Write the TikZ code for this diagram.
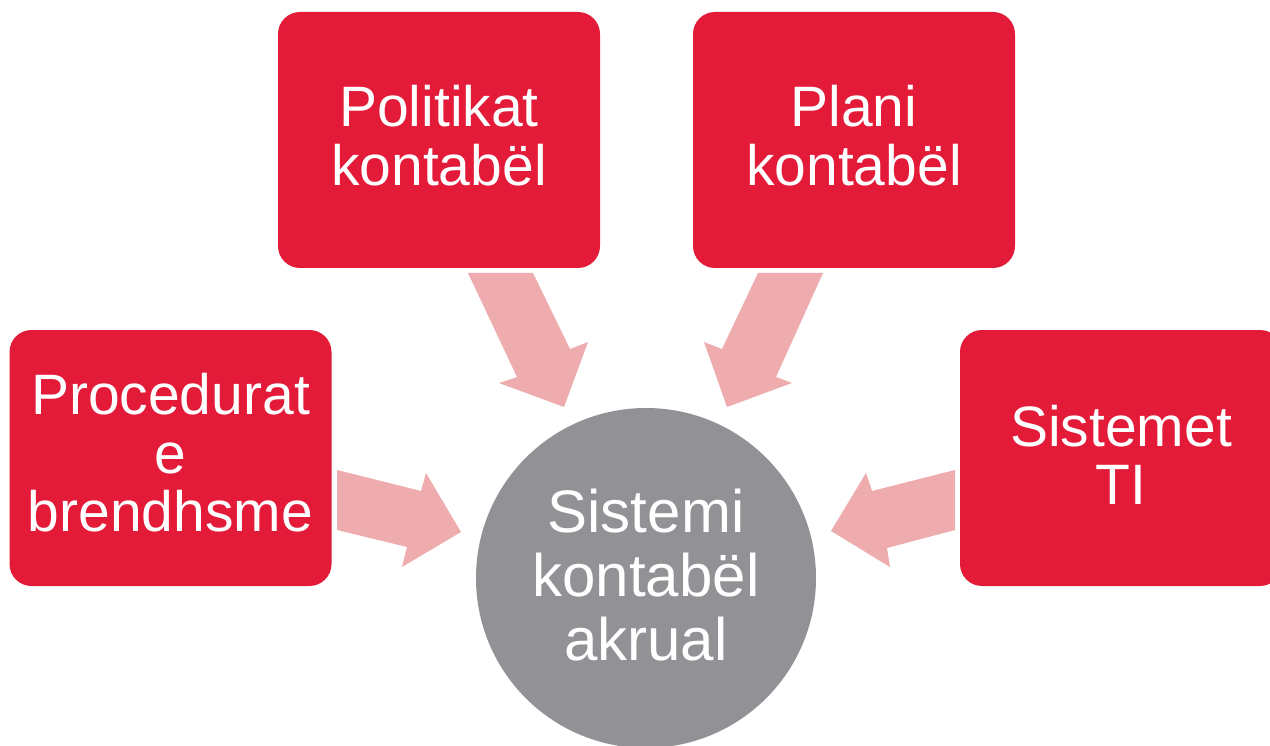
\documentclass[tikz,border=0pt]{standalone}
\usepackage{fontspec}
\setmainfont{Liberation Sans}
\definecolor{boxred}{HTML}{E31A38}
\definecolor{circgrey}{HTML}{929195}
\definecolor{arrowpink}{HTML}{EFACAF}
\begin{document}
\begin{tikzpicture}[x=1pt,y=-1pt,
  redbox/.style={fill=boxred, rounded corners=22pt, minimum width=322pt, minimum height=256pt,
     inner sep=0pt},
  boxtext/.style={inner sep=0pt, text=white, align=center, font=\fontsize{57}{58.5}\selectfont},
  hub/.style={circle, fill=circgrey, minimum size=340pt, inner sep=0pt},
  hubtext/.style={inner sep=0pt, text=white, align=center, font=\fontsize{60}{64}\selectfont},
  blockarrow/.style={fill=arrowpink}]
\clip (0,0) rectangle (1270,746);
\fill[white] (0,0) rectangle (1270,746);
% arrows
\fill[blockarrow] (337,470) -- (421,491) -- (426,473) -- (461,532) -- (402,567) -- (407,547) -- (337,530) -- cycle;
\fill[blockarrow] (955,470) -- (872,491) -- (866,473) -- (831,531) -- (890,567) -- (887,548) -- (955,530) -- cycle;
\fill[blockarrow] (468,273) -- (533,273) -- (570,349) -- (588,342) -- (564,407) -- (499,383) -- (517,377) -- cycle;
\fill[blockarrow] (823,273) -- (758,273) -- (722,349) -- (704,342) -- (727,407) -- (792,383) -- (776,377) -- cycle;
% nodes
\node[redbox] (pol) at (439,140) {};
\node[boxtext] (poltxt) at ([yshift=4.5pt]pol.center) {Politikat\\kontabël};
\node[redbox] (plan) at (854,140) {};
\node[boxtext] (plantxt) at ([yshift=4.5pt]plan.center) {Plani\\kontabël};
\node[redbox] (proc) at (170.5,458) {};
\node[boxtext] (proctxt) at ([yshift=5pt]proc.center) {Procedurat\\e\\brendhsme};
\node[redbox] (sist) at (1121,458) {};
\node[boxtext] (sisttxt) at ([yshift=3pt]sist.center) {Sistemet\\TI};
\node[hub] (hub) at (646,578) {};
\node[hubtext] (hubtxt) at ([yshift=3pt]hub.center) {Sistemi\\kontabël\\akrual};
\end{tikzpicture}
\end{document}
